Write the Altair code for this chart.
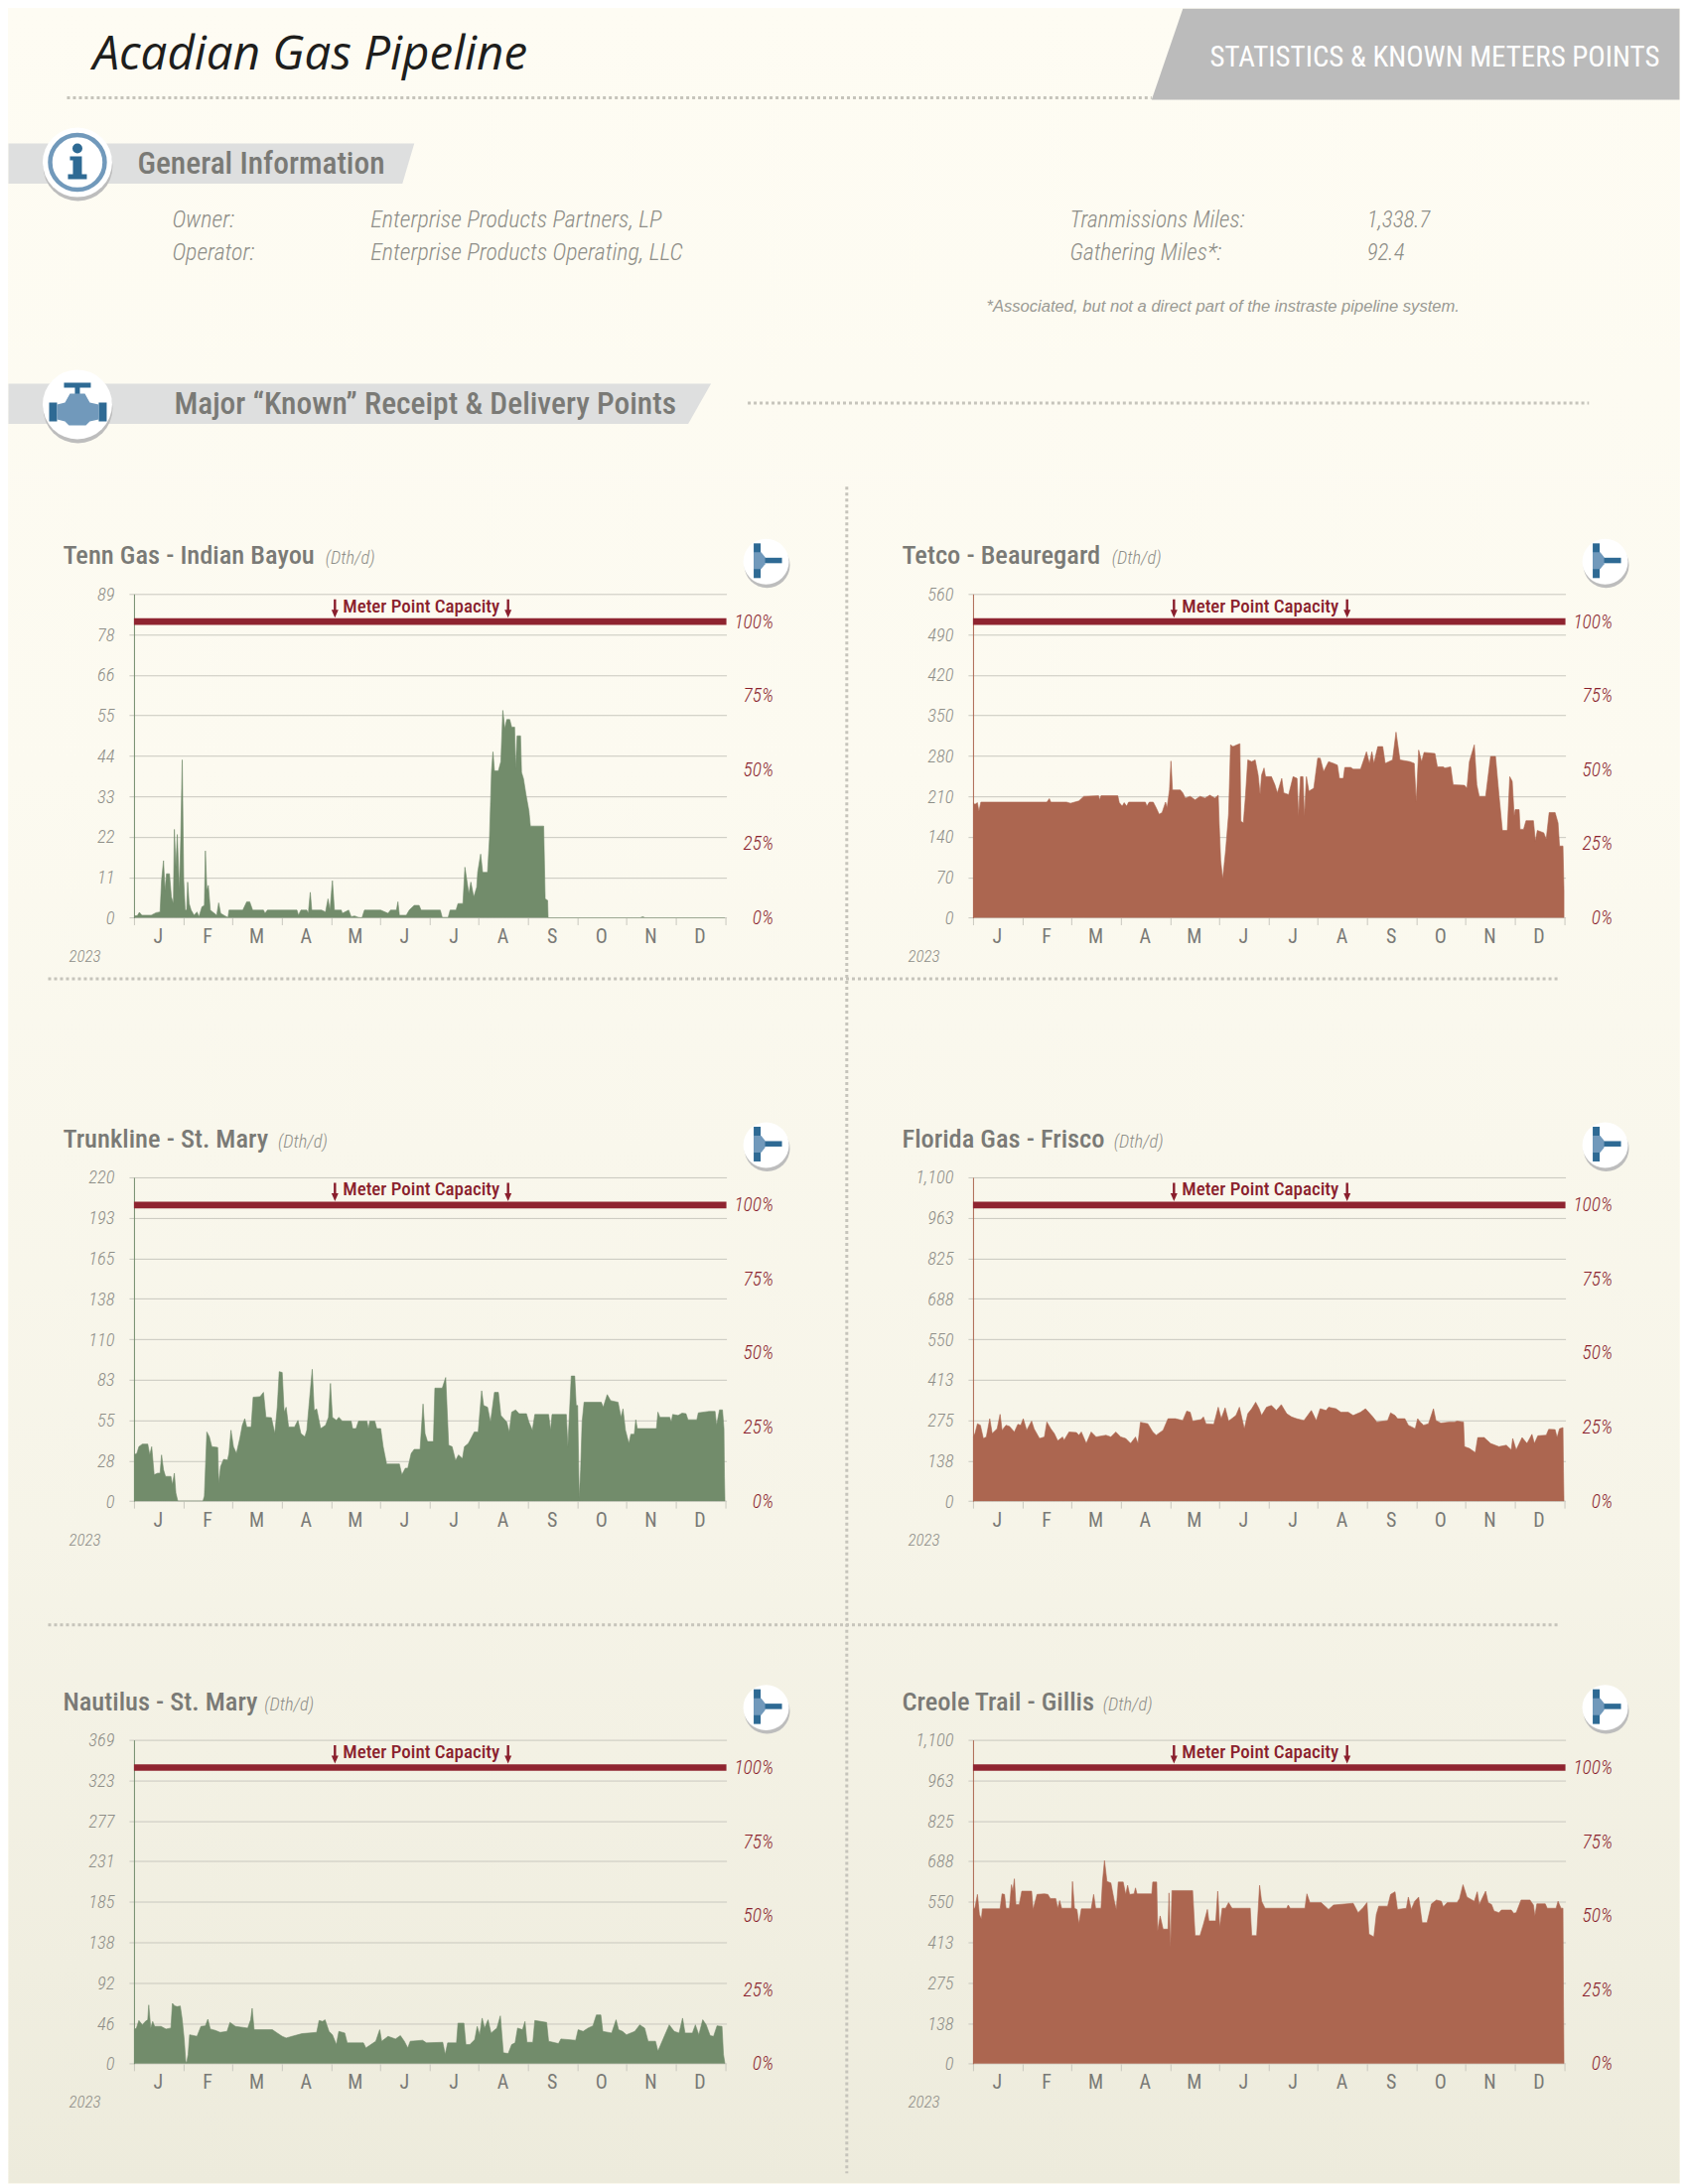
import altair as alt

MONTHS = ["J","F","M","A","M","J","J","A","S","O","N","D",""]

# (month position, Dth/d)
TENN = [(0,.5),(.07,.6),(.11,1.5),(.16,.7),(.35,.7),(.45,1.4),(.53,1.6),(.56,10.2),(.60,15.7),(.63,7.5),(.66,12.1),(.72,12.1),(.76,5.7),(.80,3.9),(.82,24.3),(.85,13.9),(.88,22.9),(.92,7.5),(.95,22),(.98,43.4),(1.01,10.2),(1.04,2.1),(1.07,2.1),(1.09,9.8),(1.12,3.9),(1.16,2.1),(1.22,.7),(1.28,1.6),(1.32,.3),(1.38,3),(1.43,3.4),(1.45,18.4),(1.48,7.5),(1.51,8.9),(1.55,2.1),(1.68,.7),(1.72,4.1),(1.76,1.2),(1.85,.5),(1.91,.1),(1.93,2.1),(2.21,2.1),(2.29,4.4),(2.35,4.4),(2.41,2.1),(2.63,2.1),(2.66,1.2),(2.71,2.1),(3.31,2.1),(3.34,.7),(3.39,2.1),(3.51,2.1),(3.54,1.2),(3.58,7),(3.61,2.1),(3.81,2.1),(3.89,1.6),(3.94,5.2),(3.98,2.1),(4.03,10.2),(4.07,2.1),(4.21,2.1),(4.23,1.2),(4.36,2.1),(4.41,.3),(4.48,.5),(4.56,.1),(4.63,0),(4.68,2.1),(5.01,2.1),(5.16,1.2),(5.21,2.1),(5.33,2.1),(5.36,4.4),(5.39,.7),(5.53,.7),(5.59,2.1),(5.69,3.4),(5.79,3.4),(5.83,2.1),(6.22,2.1),(6.26,.1),(6.38,.1),(6.42,2.1),(6.54,2.1),(6.58,3.9),(6.68,3.9),(6.72,13.9),(6.76,10.2),(6.80,6.6),(6.84,9.8),(6.90,5.7),(6.96,8.4),(6.98,12.5),(7.04,17.5),(7.08,12.5),(7.18,12.5),(7.22,22),(7.26,40.2),(7.29,45.6),(7.32,40.4),(7.40,40.4),(7.45,42.9),(7.49,57),(7.53,52),(7.57,54.5),(7.63,54.5),(7.67,52.4),(7.73,52.4),(7.75,41),(7.78,50),(7.85,50),(7.87,40),(7.91,38.2),(7.96,33.9),(8.02,29.4),(8.05,25.2),(8.32,25.2),(8.35,5.2),(8.40,4.8),(8.41,0),(10.28,0),(10.33,.3),(10.38,0),(12,0)]

TETCO = [(0,199),(.04,196),(.09,199),(.12,184),(.16,200),(1.50,200),(1.55,206),(1.58,200),(1.90,200),(1.98,198),(2.15,202),(2.25,210),(2.55,211),(2.57,204),(2.60,211),(2.94,211),(2.97,199),(3.03,193),(3.07,199),(3.12,193),(3.16,200),(3.50,200),(3.53,193),(3.58,200),(3.66,200),(3.72,190),(3.78,179),(3.84,182),(3.91,200),(3.94,190),(3.99,221),(4.02,271),(4.05,221),(4.21,221),(4.26,216),(4.31,207),(4.41,210),(4.51,204),(4.61,210),(4.71,207),(4.81,212),(4.91,207),(4.98,212),(5.00,162),(5.03,99),(5.07,67),(5.13,116),(5.19,179),(5.23,299),(5.28,296),(5.36,299),(5.42,301),(5.44,167),(5.49,164),(5.53,207),(5.58,273),(5.66,270),(5.73,273),(5.79,247),(5.83,213),(5.86,247),(5.91,259),(5.94,244),(6.06,244),(6.13,230),(6.18,216),(6.27,241),(6.31,216),(6.41,213),(6.50,244),(6.58,241),(6.61,176),(6.65,244),(6.70,244),(6.73,176),(6.77,244),(6.82,219),(6.92,224),(7.00,276),(7.05,276),(7.12,253),(7.22,270),(7.32,267),(7.40,264),(7.44,241),(7.52,241),(7.55,260),(7.67,260),(7.72,257),(7.87,257),(7.99,287),(8.05,267),(8.10,287),(8.14,267),(8.22,296),(8.32,296),(8.37,267),(8.52,273),(8.59,321),(8.67,273),(8.87,270),(8.96,267),(9.00,201),(9.05,290),(9.11,270),(9.16,286),(9.38,284),(9.43,261),(9.55,261),(9.58,259),(9.70,261),(9.75,230),(9.98,229),(10.03,224),(10.08,270),(10.18,299),(10.23,230),(10.28,210),(10.41,210),(10.51,279),(10.61,279),(10.68,213),(10.75,151),(10.85,151),(10.90,244),(10.95,236),(10.99,176),(11.01,187),(11.09,187),(11.11,153),(11.18,153),(11.23,168),(11.38,168),(11.42,133),(11.46,151),(11.59,147),(11.64,136),(11.70,182),(11.82,182),(11.88,164),(11.91,124),(11.98,124),(12,47)]

TRUNK = [(0,31.4),(.06,32.5),(.10,37),(.17,38.8),(.28,38.8),(.32,31.4),(.36,37),(.41,17.9),(.48,19),(.53,19),(.56,31.4),(.60,21.3),(.64,16.8),(.75,16.8),(.78,11.2),(.82,19),(.85,5.6),(.89,0),(1.40,0),(1.43,3.4),(1.48,47),(1.53,43.7),(1.58,37),(1.70,36.5),(1.72,12.3),(1.76,23.5),(1.82,28.4),(1.90,28),(1.93,32.5),(1.97,48.2),(2.02,37),(2.08,32.5),(2.15,42.6),(2.20,51.5),(2.25,56),(2.29,50.4),(2.38,50.4),(2.42,70.6),(2.56,71),(2.63,73.9),(2.68,57),(2.79,56.7),(2.86,45.9),(2.91,63.8),(2.95,88),(3.01,87.4),(3.05,60.5),(3.09,63.8),(3.14,50.4),(3.26,50.4),(3.33,54.9),(3.39,45.9),(3.47,43.7),(3.51,48.2),(3.56,67.2),(3.62,89.6),(3.66,61.6),(3.71,62.7),(3.79,49.3),(3.89,51.5),(3.95,57),(3.99,80),(4.03,57),(4.11,54.9),(4.16,57),(4.23,54.4),(4.41,54.4),(4.44,49.3),(4.51,49.3),(4.56,54.4),(4.73,54.4),(4.76,49.3),(4.79,54.4),(4.89,54.4),(4.93,49.3),(5.01,49.3),(5.06,37),(5.13,25.3),(5.39,25.3),(5.44,17.9),(5.51,22.4),(5.56,22.4),(5.63,32.5),(5.69,35.2),(5.81,35.2),(5.87,66),(5.91,45.9),(5.96,40.5),(6.08,40.5),(6.11,76.8),(6.26,76.8),(6.33,84),(6.39,38),(6.46,37),(6.53,27.6),(6.59,31.4),(6.67,29),(6.71,37),(6.79,39.2),(6.86,43.7),(6.91,47),(6.99,47),(7.06,75),(7.10,65),(7.18,63.8),(7.24,53.8),(7.32,73.9),(7.40,73.9),(7.45,58.2),(7.57,53.8),(7.62,47),(7.67,60.5),(7.75,62),(7.82,59.4),(7.97,59.4),(8.02,53.8),(8.09,48.2),(8.14,58.9),(8.42,58.9),(8.46,48.2),(8.49,58.9),(8.78,58.9),(8.81,37),(8.88,85),(8.95,85),(8.98,65),(9.01,65),(9.04,2.2),(9.07,21.3),(9.10,53.8),(9.14,67.2),(9.49,67.2),(9.53,63.8),(9.61,72.4),(9.68,68.3),(9.83,67.2),(9.89,57),(9.93,62.7),(9.98,48.2),(10.05,39.2),(10.09,45.5),(10.16,45.5),(10.19,55.3),(10.22,49.3),(10.61,49.3),(10.64,60.5),(10.68,57),(10.88,57),(10.91,53.8),(10.94,58.9),(11.05,58.2),(11.13,59.8),(11.21,59.4),(11.25,55.3),(11.43,55.3),(11.46,60),(11.68,61),(11.80,61),(11.83,51.5),(11.89,62),(11.95,62),(11.98,49.3),(11.99,16.8),(12,0)]

FLOR = [(0,218),(.04,230),(.09,263),(.15,258),(.21,213),(.27,218),(.34,280),(.39,230),(.49,246),(.55,295),(.59,241),(.67,258),(.74,254),(.84,235),(.91,261),(.97,258),(1.02,280),(1.09,241),(1.19,272),(1.24,246),(1.35,213),(1.45,218),(1.50,269),(1.58,246),(1.65,230),(1.72,205),(1.82,218),(1.85,207),(1.95,235),(2.10,233),(2.15,224),(2.20,235),(2.30,196),(2.40,235),(2.50,218),(2.70,224),(2.80,218),(2.90,235),(3.00,218),(3.10,213),(3.20,196),(3.30,218),(3.35,196),(3.40,268),(3.55,263),(3.65,235),(3.72,224),(3.86,241),(3.96,280),(4.11,280),(4.26,274),(4.34,306),(4.41,302),(4.46,272),(4.63,277),(4.68,286),(4.73,263),(4.89,261),(4.98,319),(5.04,280),(5.12,317),(5.19,272),(5.34,291),(5.41,319),(5.51,246),(5.58,297),(5.66,314),(5.74,336),(5.81,314),(5.86,291),(5.96,319),(6.06,325),(6.16,308),(6.26,328),(6.37,297),(6.47,286),(6.57,280),(6.72,274),(6.87,308),(6.92,291),(6.97,274),(7.05,314),(7.17,308),(7.22,319),(7.37,314),(7.47,302),(7.62,302),(7.72,291),(7.87,302),(7.97,314),(8.12,286),(8.20,269),(8.42,274),(8.48,300),(8.57,291),(8.62,280),(8.77,280),(8.84,258),(8.98,246),(9.03,280),(9.08,269),(9.15,258),(9.25,263),(9.35,314),(9.40,274),(9.50,265),(9.68,269),(9.78,269),(9.83,272),(9.96,269),(9.98,185),(10.08,179),(10.20,165),(10.25,216),(10.38,216),(10.51,196),(10.68,185),(10.83,190),(10.93,174),(10.96,213),(11.03,174),(11.15,216),(11.25,196),(11.35,227),(11.40,196),(11.47,222),(11.64,224),(11.69,244),(11.82,243),(11.86,216),(11.91,246),(11.98,250),(11.99,101),(12,0)]

NAUT = [(0,38.7),(.05,40.6),(.10,49.2),(.17,44.3),(.23,48.1),(.28,50),(.30,66.9),(.34,40.6),(.38,48.1),(.42,42.5),(.55,42.5),(.65,39.5),(.75,40.6),(.78,68.8),(.83,65.8),(.88,65),(.94,65.8),(.98,50),(1.02,27.4),(1.05,3),(1.07,1.1),(1.10,10.5),(1.13,33),(1.28,31.2),(1.36,42.5),(1.45,43.2),(1.50,50.7),(1.55,39.5),(1.65,38),(1.75,35.7),(1.89,36.8),(1.95,47),(2.06,42.5),(2.31,40.6),(2.37,50),(2.40,63.1),(2.44,38.7),(2.81,38.7),(2.91,35),(3.01,31.2),(3.09,29.3),(3.21,31.2),(3.41,34.2),(3.71,35.7),(3.76,49.2),(3.83,48.1),(3.88,50),(3.96,36.8),(4.03,33),(4.11,21.8),(4.16,36.8),(4.28,35),(4.33,23.7),(4.66,23.7),(4.71,18),(4.81,21.8),(4.91,25.6),(4.99,38.7),(5.03,25.6),(5.16,31.2),(5.31,28.2),(5.41,32),(5.49,25.6),(5.56,18),(5.61,25.6),(5.86,26.7),(5.94,23.7),(6.27,24.4),(6.32,10.5),(6.37,23.7),(6.55,23.7),(6.58,46.2),(6.70,46.2),(6.74,21.8),(6.82,21.8),(6.92,27.4),(6.97,42.5),(7.02,33),(7.07,51.9),(7.12,40.6),(7.19,50),(7.25,35),(7.37,40.6),(7.44,54.5),(7.50,12.4),(7.60,11.6),(7.67,21.8),(7.74,23.7),(7.79,40.6),(7.89,38.7),(7.94,48.1),(7.98,24.4),(8.10,24.4),(8.14,49.2),(8.38,47),(8.42,25.6),(8.62,22.9),(8.67,28.2),(8.97,26.7),(9.02,38.7),(9.12,36.8),(9.22,40.6),(9.32,43.2),(9.39,55.6),(9.48,55.6),(9.52,36.8),(9.70,35),(9.79,50),(9.84,38.7),(9.92,36.8),(10.00,33),(10.17,36.8),(10.27,44.3),(10.37,40.6),(10.44,25.6),(10.59,25.6),(10.64,14.3),(10.74,27.4),(10.87,44.3),(10.97,36.8),(11.07,35),(11.14,51.9),(11.19,35),(11.34,35),(11.40,44.3),(11.47,33),(11.55,50),(11.62,44.3),(11.70,32),(11.77,31.2),(11.84,43.2),(11.94,42.5),(11.97,10.5),(12,0)]

CREO = [(0,524),(.04,530),(.09,575),(.13,507),(.17,491),(.19,526),(.55,526),(.59,577),(.64,575),(.67,528),(.74,528),(.78,608),(.81,586),(.84,628),(.87,541),(.94,541),(.99,586),(1.19,586),(1.22,524),(1.30,575),(1.45,577),(1.52,575),(1.57,561),(1.68,561),(1.72,528),(1.76,554),(1.80,528),(2.00,528),(2.02,619),(2.06,528),(2.11,524),(2.15,476),(2.20,526),(2.40,526),(2.45,575),(2.49,528),(2.60,528),(2.63,619),(2.67,690),(2.72,619),(2.80,614),(2.87,552),(2.91,524),(2.95,617),(3.05,617),(3.10,575),(3.14,606),(3.18,575),(3.27,577),(3.30,597),(3.33,577),(3.63,577),(3.65,617),(3.73,617),(3.75,451),(3.80,502),(3.86,457),(3.96,457),(3.98,580),(4.01,395),(4.04,588),(4.46,588),(4.51,435),(4.61,435),(4.68,474),(4.76,524),(4.79,485),(4.93,485),(4.97,586),(5.01,463),(5.06,528),(5.13,528),(5.19,547),(5.26,528),(5.63,528),(5.66,435),(5.76,435),(5.82,606),(5.86,552),(5.93,528),(6.37,528),(6.40,539),(6.44,528),(6.74,528),(6.78,577),(6.84,547),(7.07,547),(7.22,524),(7.32,539),(7.72,545),(7.82,513),(7.92,530),(8.00,547),(8.04,440),(8.14,431),(8.19,507),(8.24,535),(8.42,535),(8.48,575),(8.57,584),(8.62,524),(8.80,528),(8.84,566),(8.90,524),(8.97,552),(9.05,566),(9.12,479),(9.22,479),(9.31,543),(9.41,556),(9.51,552),(9.55,533),(9.63,547),(9.83,547),(9.88,561),(9.95,608),(10.03,566),(10.18,552),(10.24,584),(10.28,541),(10.41,586),(10.46,547),(10.53,541),(10.58,519),(10.68,513),(10.73,522),(10.93,522),(10.98,511),(11.03,513),(11.13,556),(11.31,556),(11.38,539),(11.41,502),(11.45,543),(11.62,543),(11.66,528),(11.84,528),(11.88,552),(11.94,528),(11.98,528),(11.99,216),(12,0)]

PANELS = [
    ("Tenn Gas - Indian Bayou", 327.5, 89, ["0","11","22","33","44","55","66","78","89"], TENN, "#728C6B"),
    ("Tetco - Beauregard", 1120, 560, ["0","70","140","210","280","350","420","490","560"], TETCO, "#AC6650"),
    ("Trunkline - St. Mary", 279.7, 220, ["0","28","55","83","110","138","165","193","220"], TRUNK, "#728C6B"),
    ("Florida Gas - Frisco", 1122, 1100, ["0","138","275","413","550","688","825","963","1,100"], FLOR, "#AC6650"),
    ("Nautilus - St. Mary", 266, 369, ["0","46","92","138","185","231","277","323","369"], NAUT, "#728C6B"),
    ("Creole Trail - Gillis", 1111, 1100, ["0","138","275","413","550","688","825","963","1,100"], CREO, "#AC6650"),
]

NARROW = "Roboto Condensed"
GREY = "#7A7A76"
THIN = "#8E8E88"
DARKRED = "#8A1F2D"
BLUE = "#2E6A94"
LBLUE = "#7199BB"
DOT = "#C6C4BB"
X0, Y0 = 134.5, 8.0   # page position of the header panel's origin
RIGHT = 1692.0        # the page's right margin starts here
BLANK = alt.InlineData(values=[{"k": 1}])
PW, PH = 597, 326.4
XMAX = 12 * 597 / 595.5


def hx(x):
    return x - X0


def hy(y):
    return y - Y0


def text(s, x, y, size, color, font=NARROW, italic=False, weight=400, align="left"):
    kw = {"fontStyle": "italic"} if italic else {}
    return alt.Chart(BLANK).mark_text(text=s, font=font, fontSize=size, color=color, fontWeight=weight,
                                      align=align, baseline="alphabetic", **kw).encode(
        x=alt.value(x), y=alt.value(y))


def shape(path, color):
    return alt.Chart(BLANK).mark_point(shape=path, size=4, filled=True, color=color, opacity=1, strokeWidth=0).encode(
        x=alt.value(0), y=alt.value(0))


def disc(x, y, r, fill, stroke=None, sw=0):
    kw = {"stroke": stroke, "strokeWidth": sw} if stroke else {"strokeWidth": 0}
    return alt.Chart(BLANK).mark_point(shape="circle", size=(2 * r) ** 2, filled=True, fill=fill, opacity=1, **kw).encode(
        x=alt.value(x), y=alt.value(y))


def dotted(x1, y1, x2, y2):
    return alt.Chart(BLANK).mark_rule(color=DOT, strokeWidth=3, strokeDash=[3, 3]).encode(
        x=alt.value(hx(x1)), x2=alt.value(hx(x2)), y=alt.value(hy(y1)), y2=alt.value(hy(y2)))


def poly(points, color):
    return shape("M" + "L".join(f"{hx(a)},{hy(b)}" for a, b in points) + "Z", color)


paper = alt.Chart(BLANK).mark_rect(
    color=alt.LinearGradient(gradient="linear", x1=0, x2=0, y1=0, y2=1, stops=[
        alt.GradientStop(offset=0, color="#FEFCF3"),
        alt.GradientStop(offset=0.35, color="#FCFAF0"),
        alt.GradientStop(offset=0.7, color="#F6F4E8"),
        alt.GradientStop(offset=1, color="#EDEBDC"),
    ])
).encode(x=alt.value(-X0 + 8), x2=alt.value(RIGHT - X0), y=alt.value(0), y2=alt.value(2192))

header_layers = [
    paper,
    poly([(1191.5, 8), (RIGHT, 8), (RIGHT, 100), (1160, 100)], "#BBBBBB"),
    dotted(67, 98, 1160, 98),
    text("Acadian Gas Pipeline", hx(93), hy(69), 47.5, "#1E1E1C", font="Open Sans", italic=True, weight=400),
    text("STATISTICS & KNOWN METERS POINTS", hx(1218.6), hy(66.5), 29, "#FFFFFF"),
    poly([(8, 144), (417, 144), (405, 184.4), (8, 184.4)], "#DEDFDF"),
    disc(hx(78), hy(167), 35, "#BDBDBD"),
    disc(hx(77.5), hy(163), 35, "#FFFFFF"),
    disc(hx(77.5), hy(163), 27.5, "#FFFFFF", LBLUE, 4.5),
    disc(hx(77.5), hy(149), 5, BLUE),
    shape(f"M{hx(70)},{hy(157)}L{hx(82)},{hy(157)}L{hx(82)},{hy(175)}L{hx(87)},{hy(175)}L{hx(87)},{hy(180)}"
          f"L{hx(68)},{hy(180)}L{hx(68)},{hy(175)}L{hx(73)},{hy(175)}L{hx(73)},{hy(161)}L{hx(70)},{hy(161)}Z", BLUE),
    text("General Information", hx(138), hy(174.5), 31.5, GREY, weight=500),
    text("Owner:", hx(173), hy(228), 24, THIN, italic=True, weight=300),
    text("Operator:", hx(173), hy(261.5), 24, THIN, italic=True, weight=300),
    text("Enterprise Products Partners, LP", hx(373), hy(228), 24, THIN, italic=True, weight=300),
    text("Enterprise Products Operating, LLC", hx(373), hy(261.5), 24, THIN, italic=True, weight=300),
    text("Tranmissions Miles:", hx(1077.6), hy(228), 23.5, THIN, italic=True, weight=300),
    text("Gathering Miles*:", hx(1077.6), hy(261.5), 23.5, THIN, italic=True, weight=300),
    text("1,338.7", hx(1377), hy(228), 23, THIN, italic=True, weight=300),
    text("92.4", hx(1377), hy(261.5), 23, THIN, italic=True, weight=300),
    text("*Associated, but not a direct part of the instraste pipeline system.", hx(993.6), hy(313.5), 16.6, "#9A9A94",
         font="Liberation Sans", italic=True),
    poly([(8, 386), (716, 386), (693, 426.7), (8, 426.7)], "#DEDFDF"),
    disc(hx(78), hy(411), 35, "#BDBDBD"),
    disc(hx(77.5), hy(407), 35, "#FFFFFF"),
    shape(f"M{hx(64)},{hy(385)}L{hx(91)},{hy(385)}L{hx(91)},{hy(390)}L{hx(80)},{hy(390)}L{hx(80)},{hy(397)}L{hx(75)},{hy(397)}L{hx(75)},{hy(390)}L{hx(64)},{hy(390)}Z"
          f"M{hx(49)},{hy(405)}L{hx(57)},{hy(405)}L{hx(57)},{hy(424)}L{hx(49)},{hy(424)}Z"
          f"M{hx(99)},{hy(405)}L{hx(107)},{hy(405)}L{hx(107)},{hy(424)}L{hx(99)},{hy(424)}Z", BLUE),
    shape(f"M{hx(70)},{hy(396)}L{hx(85)},{hy(396)}L{hx(90)},{hy(405)}L{hx(99)},{hy(407)}L{hx(99)},{hy(422)}L{hx(90)},{hy(424)}L{hx(86)},{hy(428)}"
          f"L{hx(69)},{hy(428)}L{hx(65)},{hy(424)}L{hx(57)},{hy(422)}L{hx(57)},{hy(407)}L{hx(65)},{hy(405)}Z", LBLUE),
    text("Major \u201cKnown\u201d Receipt & Delivery Points", hx(175), hy(416.5), 31.5, GREY, weight=500),
    dotted(753, 405.7, 1600.7, 405.7),
    dotted(48, 986, 1571, 986),
    dotted(48, 1637, 1571, 1637),
    dotted(852.8, 490, 852.8, 2190),
]
header = alt.layer(*header_layers).properties(width=PW, height=589.5)


def spacer(h):
    return alt.Chart(BLANK).mark_rule(opacity=0).encode(x=alt.value(0)).properties(width=PW, height=h)


def panel(name, unit_x, top, labels, series, color, col):
    ox = 134.5 if col == 0 else 980.0
    data = alt.InlineData(values=[{"m": a, "v": b} for a, b in series])
    expr_y = "[" + ",".join(f"'{s}'" for s in labels) + f"][round(datum.value/{top}*8)]"
    expr_x = "[" + ",".join(f"'{s}'" for s in MONTHS) + "][datum.value]"
    x_enc = alt.X("m:Q", title=None, scale=alt.Scale(domain=[0, XMAX], nice=False, zero=False),
                  axis=alt.Axis(values=list(range(13)), labelExpr=expr_x, grid=False, domain=False,
                                tickColor="#C9C8BF", tickSize=7, tickWidth=1,
                                labelFont=NARROW, labelFontSize=20, labelColor=GREY, labelPadding=2,
                                labelOffset=24, labelBound=False, labelFlush=False, labelOverlap=False))
    area = alt.Chart(data).mark_area(color=color, stroke=color, strokeWidth=0.6, interpolate="linear", clip=True).encode(
        x=x_enc,
        y=alt.Y("v:Q", title=None, scale=alt.Scale(domain=[0, top], nice=False),
                axis=alt.Axis(values=[top * i / 8 for i in range(9)], labelExpr=expr_y,
                              grid=True, gridColor="#C9C8BF", gridWidth=1,
                              domain=True, domainColor=color, domainWidth=1,
                              tickColor="#C9C8BF", tickSize=5, tickWidth=1,
                              labelFont=NARROW, labelFontStyle="italic", labelFontWeight=300, labelFontSize=18.5, labelColor=THIN,
                              labelPadding=15, labelAlign="right", labelBaseline="middle", labelOverlap=False,
                              labelBound=False, labelFlush=False)),
    )
    band = alt.Chart(alt.InlineData(values=[{"pct": 100}])).mark_rule(color="#8F2430", strokeWidth=6.7).encode(
        y=alt.Y("pct:Q", title=None, scale=alt.Scale(domain=[0, 100 * 326.4 / 298.5], nice=False),
                axis=alt.Axis(values=[0, 25, 50, 75, 100], labelExpr="datum.value + '%'", orient="right",
                              grid=False, domain=False, ticks=False,
                              labelFont=NARROW, labelFontStyle="italic", labelFontWeight=300, labelFontSize=19.5, labelColor=DARKRED,
                              labelPadding=47, labelAlign="right", labelBaseline="middle",
                              labelBound=False, labelFlush=False, labelOverlap=False)))
    ax = 202.5  # first arrow, relative to the axis
    bx = 377.0  # second arrow
    arrow = lambda a: (f"M{a-1.2},5.5L{a+1.2},5.5L{a+1.2},16L{a+3.5},16L{a},24L{a-3.5},16L{a-1.2},16Z")
    lay = [
        area, band,
        text(name, -71.5, -30, 26.5, GREY, weight=500),
        text("(Dth/d)", unit_x - ox, -30, 18.5, THIN, italic=True, weight=300),
        text("Meter Point Capacity", 210.5, 18.5, 19, DARKRED, weight=500),
        shape(arrow(ax) + arrow(bx), DARKRED),
        text("2023", -65.5, 371, 17, THIN, italic=True, weight=300),
        disc(638, -29, 23, "#BDBDBD"),
        disc(637, -32.5, 23, "#FFFFFF"),
        shape("M624.5,-51L631.5,-51L631.5,-16L624.5,-16Z", BLUE),
        shape("M631,-36.5L653,-36.5L653,-31L631,-31Z", BLUE),
        shape("M624.5,-42L632,-42L636,-37L636,-30L632,-25L624.5,-25Z", LBLUE),
    ]
    return alt.layer(*lay).resolve_scale(y="independent").properties(width=PW, height=PH)


cells = [header, spacer(589.5)]
charts = [panel(*p, i % 2) for i, p in enumerate(PANELS)]
cells += charts[:2] + [spacer(260.4), spacer(260.4)] + charts[2:4] + [spacer(239.6), spacer(239.6)] + charts[4:6]

chart = alt.concat(*cells, columns=2, spacing={"column": 248.5, "row": 0}, bounds="flush").properties(
    padding=0, background="#FEFCF3"
).configure_view(stroke=None)

chart.save("out.html", embed_options={"renderer": "svg", "actions": False})
